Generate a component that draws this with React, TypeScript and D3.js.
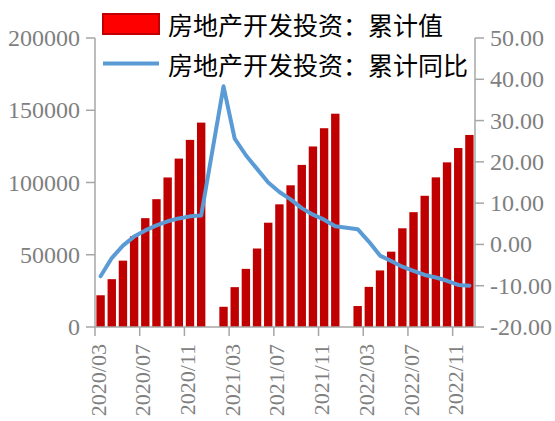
import React from "react";
import * as d3 from "d3";

const months = [
  "2020/03", "2020/04", "2020/05", "2020/06", "2020/07", "2020/08", "2020/09", "2020/10", "2020/11", "2020/12",
  "2021/01", "2021/02", "2021/03", "2021/04", "2021/05", "2021/06", "2021/07", "2021/08", "2021/09", "2021/10", "2021/11", "2021/12",
  "2022/01", "2022/02", "2022/03", "2022/04", "2022/05", "2022/06", "2022/07", "2022/08", "2022/09", "2022/10", "2022/11", "2022/12",
];

const investment: (number | null)[] = [
  21963, 33103, 45920, 62780, 75325, 88454, 103484, 116556, 129492, 141443,
  null, 13986, 27576, 40240, 54318, 72179, 84895, 98060, 112184, 124934, 137567, 147602,
  null, 14499, 27765, 39154, 52134, 68314, 79462, 90809, 103559, 113945, 123863, 132895,
];

const yoy: (number | null)[] = [
  -7.7, -3.3, -0.3, 1.9, 3.4, 4.6, 5.6, 6.3, 6.8, 7.0,
  null, 38.3, 25.6, 21.6, 18.3, 15.0, 12.7, 10.9, 8.8, 7.2, 6.0, 4.4,
  null, 3.7, 0.7, -2.7, -4.0, -5.4, -6.4, -7.4, -8.0, -8.8, -9.8, -10.0,
];

const leftTicks = [0, 50000, 100000, 150000, 200000];
const rightTicks = [-20, -10, 0, 10, 20, 30, 40, 50];
const xTickLabels = ["2020/03", "2020/07", "2020/11", "2021/03", "2021/07", "2021/11", "2022/03", "2022/07", "2022/11"];

const seriesNames = ["房地产开发投资：累计值", "房地产开发投资：累计同比"];

const W = 555;
const H = 421;
const left = 95;
const right = 475;
const top = 38;
const bottom = 327;

const AXIS = "#A6A6A6";
const TEXT = "#7F7F7F";
const BAR = "#C00000";
const LINE = "#5B9BD5";

export default function App() {
  const x = d3.scaleBand<string>().domain(months).range([left, right]).paddingInner(0.25).paddingOuter(0.125);
  const step = x.step();
  const bw = x.bandwidth();
  const edge = (m: string) => (x(m) as number) - (step - bw) / 2;
  const cx = (m: string) => (x(m) as number) + bw / 2;
  const yL = d3.scaleLinear().domain([0, 200000]).range([bottom, top]);
  const yR = d3.scaleLinear().domain([-20, 50]).range([bottom, top]);

  const pts = months
    .map((m, i) => ({ m, v: yoy[i] }))
    .filter((d) => d.v !== null) as { m: string; v: number }[];
  const linePath = d3
    .line<{ m: string; v: number }>()
    .x((d) => cx(d.m))
    .y((d) => yR(d.v))(pts);

  const serif = "'Liberation Serif', 'Times New Roman', serif";
  const cjk = "'Noto Sans CJK SC', sans-serif";

  return (
    <svg width={W} height={H} style={{ position: "absolute", left: 0, top: 0, background: "#fff" }}>
      {/* bars */}
      {months.map((m, i) =>
        investment[i] === null ? null : (
          <rect
            key={m}
            x={x(m)}
            y={yL(investment[i] as number)}
            width={bw}
            height={bottom - yL(investment[i] as number)}
            fill={BAR}
          />
        )
      )}

      {/* left axis */}
      <line x1={left} x2={left} y1={top} y2={bottom} stroke={AXIS} strokeWidth={1.5} />
      {leftTicks.map((t) => (
        <g key={t}>
          <line x1={left - 9} x2={left} y1={yL(t)} y2={yL(t)} stroke={AXIS} strokeWidth={1.5} />
          <text x={80} y={yL(t)} textAnchor="end" dominantBaseline="central" fontFamily={serif} fontSize={24} fill={TEXT}>
            {t}
          </text>
        </g>
      ))}

      {/* right axis */}
      <line x1={right} x2={right} y1={top} y2={bottom} stroke={AXIS} strokeWidth={1.5} />
      {rightTicks.map((t) => (
        <g key={t}>
          <line x1={right} x2={right + 9} y1={yR(t)} y2={yR(t)} stroke={AXIS} strokeWidth={1.5} />
          <text x={490} y={yR(t)} textAnchor="start" dominantBaseline="central" fontFamily={serif} fontSize={24} fill={TEXT}>
            {t.toFixed(2)}
          </text>
        </g>
      ))}

      {/* x axis */}
      <line x1={left} x2={right} y1={bottom} y2={bottom} stroke={AXIS} strokeWidth={1.5} />
      {xTickLabels.map((m) => (
        <g key={m}>
          <line x1={edge(m)} x2={edge(m)} y1={bottom} y2={bottom + 9} stroke={AXIS} strokeWidth={1.5} />
          <text
            transform={`translate(${cx(m) + 5},344) rotate(-90)`}
            textAnchor="end"
            fontFamily={serif}
            fontSize={22}
            fill={TEXT}
          >
            {m}
          </text>
        </g>
      ))}

      {/* line */}
      <path d={linePath || ""} fill="none" stroke={LINE} strokeWidth={4} strokeLinejoin="round" strokeLinecap="round" />

      {/* legend */}
      <rect x={103} y={14} width={56} height={20} fill="#FF0000" stroke={BAR} strokeWidth={2} />
      <text x={168} y={24} dominantBaseline="central" fontFamily={cjk} fontSize={25} fill="#000">
        {seriesNames[0]}
      </text>
      <line x1={103} x2={159} y1={63.5} y2={63.5} stroke={LINE} strokeWidth={4} />
      <text x={168} y={64} dominantBaseline="central" fontFamily={cjk} fontSize={25} fill="#000">
        {seriesNames[1]}
      </text>
    </svg>
  );
}
